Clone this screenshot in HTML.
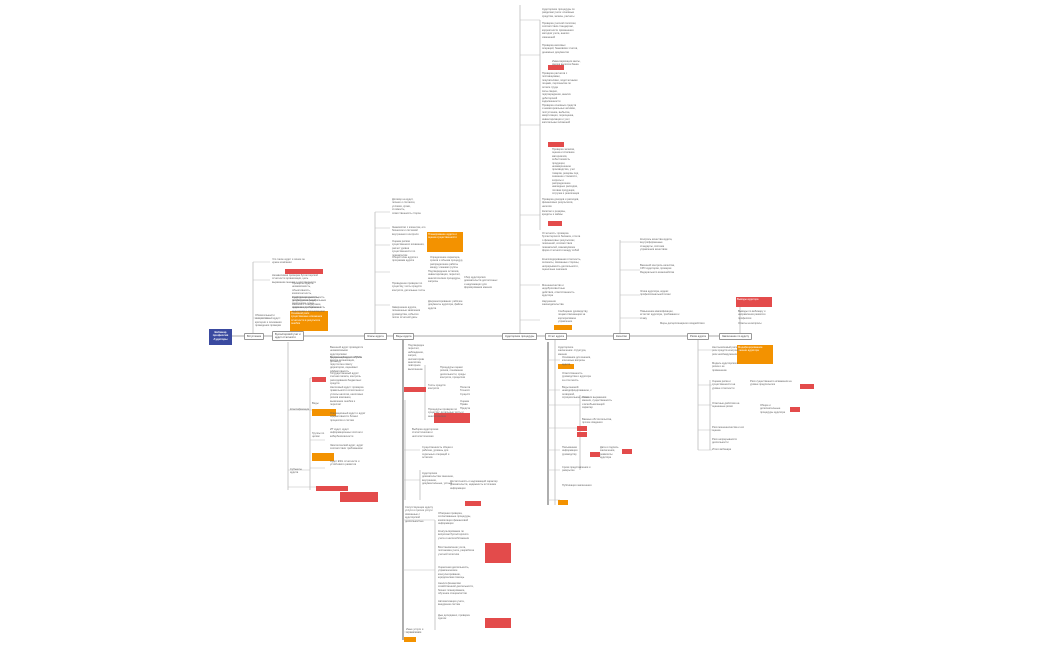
<!DOCTYPE html>
<html><head><meta charset="utf-8"><style>
html,body{margin:0;padding:0;background:#fff;width:1050px;height:650px;overflow:hidden;position:relative;font-family:"Liberation Sans",sans-serif}
.t{position:absolute;font-size:2.6px;line-height:3.4px;color:#666;width:70px;overflow:hidden}
.n{position:absolute;font-size:2.6px;line-height:3px;color:#444;background:#fff;border:0.6px solid #999;border-radius:1px;padding:1px 2px;white-space:nowrap}
.o{position:absolute;background:#f39200;font-size:2.6px;line-height:3.4px;color:#fff;padding:1px}
.r{position:absolute;background:#e34b4b;font-size:2.6px;line-height:3.4px;color:#fff;padding:1px}
svg{position:absolute;left:0;top:0}
</style></head><body>
<svg width="1050" height="650">
<g stroke="#bbb" stroke-width="0.8" fill="none">
<line x1="232" y1="336" x2="750" y2="336" stroke-width="1.2"/>
<line x1="253" y1="336" x2="253" y2="262"/>
<line x1="288" y1="342" x2="288" y2="490"/>
<line x1="375" y1="336" x2="375" y2="212"/>
<line x1="520" y1="336" x2="520" y2="5"/>
<line x1="620" y1="336" x2="620" y2="240"/>
<line x1="740" y1="336" x2="740" y2="300"/>
<line x1="698" y1="336" x2="698" y2="450"/>
<line x1="310" y1="378" x2="310" y2="490"/>
<line x1="405" y1="400" x2="405" y2="500"/>
<line x1="425" y1="365" x2="425" y2="420"/>
<line x1="420" y1="470" x2="420" y2="500"/>
<line x1="435" y1="520" x2="435" y2="630"/>
<line x1="540" y1="20" x2="540" y2="230"/>
<line x1="555" y1="340" x2="555" y2="505"/>
<line x1="710" y1="380" x2="710" y2="450"/>
<line x1="580" y1="395" x2="580" y2="470"/>
</g>
<g stroke="#333" stroke-width="0.8"><line x1="403" y1="336" x2="403" y2="640"/><line x1="548" y1="342" x2="548" y2="505"/></g>
<g stroke="#bbb" stroke-width="0.5">
<line x1="253" y1="262" x2="270" y2="262"/><line x1="253" y1="280" x2="270" y2="280"/><line x1="253" y1="318" x2="270" y2="318"/>
<line x1="375" y1="212" x2="390" y2="212"/><line x1="375" y1="228" x2="390" y2="228"/><line x1="375" y1="245" x2="390" y2="245"/><line x1="375" y1="272" x2="390" y2="272"/><line x1="375" y1="305" x2="390" y2="305"/>
<line x1="520" y1="20" x2="540" y2="20"/><line x1="520" y1="55" x2="540" y2="55"/><line x1="520" y1="125" x2="540" y2="125"/><line x1="520" y1="215" x2="540" y2="215"/><line x1="520" y1="245" x2="540" y2="245"/><line x1="520" y1="285" x2="540" y2="285"/><line x1="520" y1="320" x2="540" y2="320"/>
<line x1="620" y1="242" x2="640" y2="242"/><line x1="620" y1="270" x2="640" y2="270"/><line x1="620" y1="295" x2="640" y2="295"/><line x1="620" y1="318" x2="640" y2="318"/>
<line x1="403" y1="388" x2="425" y2="388"/><line x1="403" y1="450" x2="420" y2="450"/><line x1="403" y1="480" x2="420" y2="480"/><line x1="403" y1="520" x2="435" y2="520"/><line x1="403" y1="570" x2="435" y2="570"/><line x1="403" y1="632" x2="420" y2="632"/>
<line x1="548" y1="360" x2="560" y2="360"/><line x1="548" y1="390" x2="560" y2="390"/><line x1="548" y1="405" x2="580" y2="405"/><line x1="548" y1="428" x2="580" y2="428"/><line x1="548" y1="450" x2="560" y2="450"/><line x1="548" y1="470" x2="560" y2="470"/><line x1="548" y1="500" x2="560" y2="500"/>
<line x1="698" y1="350" x2="712" y2="350"/><line x1="698" y1="385" x2="712" y2="385"/><line x1="698" y1="405" x2="712" y2="405"/><line x1="698" y1="430" x2="712" y2="430"/><line x1="698" y1="450" x2="712" y2="450"/>
<line x1="310" y1="378" x2="325" y2="378"/><line x1="310" y1="410" x2="325" y2="410"/><line x1="310" y1="440" x2="325" y2="440"/><line x1="310" y1="468" x2="325" y2="468"/><line x1="288" y1="410" x2="310" y2="410"/><line x1="288" y1="470" x2="310" y2="470"/><line x1="288" y1="487" x2="320" y2="487"/>
</g>
</svg>
<div style="position:absolute;left:209px;top:329px;width:23px;height:16px;background:#3a4aa0;color:#fff;font-size:2.8px;line-height:3.4px;text-align:center;padding-top:2px;box-sizing:border-box;font-weight:bold">Вебинар<br>профессия<br>Аудиторы</div>
<div class="n" style="left:244px;top:333px">Вступление</div>
<div class="n" style="left:272px;top:331px">Бухгалтерский учет и<br>аудит отчетности</div>
<div class="n" style="left:364px;top:333px">Этапы аудита</div>
<div class="n" style="left:393px;top:333px">Виды аудита</div>
<div class="n" style="left:502px;top:333px">Аудиторские процедуры</div>
<div class="n" style="left:545px;top:333px">Отчет аудита</div>
<div class="n" style="left:613px;top:333px">Качество</div>
<div class="n" style="left:687px;top:333px">Риски аудита</div>
<div class="n" style="left:719px;top:333px">Заключение по аудиту</div>

<div class="o" style="left:290px;top:311px;width:36px;height:18px">Основной риск: существенные искажения отчетности в результате ошибок</div>
<div class="o" style="left:427px;top:232px;width:34px;height:18px">Планирование аудита и оценка существенности</div>
<div class="r" style="left:736px;top:297px;width:34px;height:8px">Выводы аудитора</div>
<div class="o" style="left:737px;top:345px;width:34px;height:17px">Модифицированное мнение аудитора</div>
<div class="o" style="left:554px;top:325px;width:16px;height:3px"></div>
<div class="o" style="left:558px;top:364px;width:14px;height:3px"></div>
<div class="r" style="left:312px;top:377px;width:12px;height:3px"></div>
<div class="o" style="left:312px;top:409px;width:22px;height:5px"></div>
<div class="o" style="left:312px;top:453px;width:20px;height:6px"></div>
<div class="r" style="left:316px;top:486px;width:30px;height:3px"></div>
<div class="r" style="left:340px;top:492px;width:36px;height:8px"></div>
<div class="r" style="left:404px;top:387px;width:20px;height:3px"></div>
<div class="r" style="left:434px;top:413px;width:34px;height:8px"></div>
<div class="r" style="left:465px;top:501px;width:14px;height:3px"></div>
<div class="r" style="left:485px;top:543px;width:24px;height:18px"></div>
<div class="r" style="left:485px;top:618px;width:24px;height:8px"></div>
<div class="o" style="left:404px;top:637px;width:10px;height:3px"></div>
<div class="r" style="left:577px;top:426px;width:8px;height:3px"></div>
<div class="r" style="left:577px;top:432px;width:8px;height:3px"></div>
<div class="r" style="left:590px;top:452px;width:8px;height:3px"></div>
<div class="r" style="left:622px;top:449px;width:8px;height:3px"></div>
<div class="r" style="left:790px;top:407px;width:8px;height:3px"></div>
<div class="r" style="left:800px;top:384px;width:12px;height:3px"></div>
<div class="o" style="left:558px;top:500px;width:8px;height:3px"></div>
<div class="r" style="left:548px;top:65px;width:14px;height:3px"></div>
<div class="r" style="left:548px;top:142px;width:14px;height:3px"></div>
<div class="r" style="left:548px;top:221px;width:12px;height:3px"></div>
<div class="r" style="left:285px;top:269px;width:36px;height:3px"></div>

<div class="t" style="left:272px;top:258px;width:40px">Что такое аудит и зачем он нужен компании</div>
<div class="t" style="left:272px;top:274px;width:48px">Независимая проверка бухгалтерской отчетности организации, цель выражение мнения о достоверности</div>
<div class="t" style="left:292px;top:282px;width:36px">Принципы аудита: независимость, объективность, компетентность, конфиденциальность, профессиональный скептицизм, этика, надлежащая тщательность</div>
<div class="t" style="left:292px;top:296px;width:36px">Аудиторская деятельность регулируется федеральным законом и стандартами, правила и требования к аудиторам и организациям</div>
<div class="t" style="left:255px;top:314px;width:34px">Обязательный и инициативный аудит: критерии и основания проведения проверки</div>
<div class="t" style="left:392px;top:198px;width:30px">Договор на аудит, письмо о согласии, условия, сроки, стоимость, ответственность сторон</div>
<div class="t" style="left:392px;top:226px;width:34px">Знакомство с клиентом, его бизнесом и системой внутреннего контроля</div>
<div class="t" style="left:392px;top:240px;width:34px">Оценка рисков существенного искажения, расчет уровня существенности по показателям</div>
<div class="t" style="left:392px;top:256px;width:30px">Общий план аудита и программа аудита</div>
<div class="t" style="left:430px;top:256px;width:36px">Определение характера, сроков и объема процедур, распределение работы между членами группы</div>
<div class="t" style="left:392px;top:282px;width:34px">Проведение проверки по существу, тесты средств контроля, детальные тесты</div>
<div class="t" style="left:428px;top:270px;width:34px">Подтверждение остатков, инвентаризация, пересчет, аналитические процедуры, запросы</div>
<div class="t" style="left:464px;top:276px;width:34px">Сбор аудиторских доказательств достаточных и надлежащих для формирования мнения</div>
<div class="t" style="left:428px;top:300px;width:36px">Документирование: рабочие документы аудитора, файлы аудита</div>
<div class="t" style="left:392px;top:306px;width:34px">Завершение аудита, письменные заявления руководства, события после отчетной даты</div>
<div class="t" style="left:330px;top:346px;width:34px">Внешний аудит проводится независимыми аудиторскими организациями или ИП по договору</div>
<div class="t" style="left:330px;top:356px;width:34px">Внутренний аудит: служба внутри организации, подотчетна совету директоров, оценивает эффективность</div>
<div class="t" style="left:330px;top:372px;width:34px">Государственный аудит: счетная палата, контроль расходования бюджетных средств</div>
<div class="t" style="left:330px;top:386px;width:34px">Налоговый аудит: проверка правильности исчисления и уплаты налогов, налоговых рисков компании, выявление ошибок и переплат</div>
<div class="t" style="left:330px;top:412px;width:36px">Операционный аудит и аудит эффективности бизнес процессов и систем</div>
<div class="t" style="left:330px;top:428px;width:34px">ИТ аудит, аудит информационных систем и кибербезопасности</div>
<div class="t" style="left:330px;top:444px;width:34px">Экологический аудит, аудит соответствия требованиям</div>
<div class="t" style="left:330px;top:460px;width:34px">Аудит ESG отчетности и устойчивого развития</div>
<div class="t" style="left:312px;top:402px;width:14px">Виды</div>
<div class="t" style="left:312px;top:432px;width:16px">Группы по целям</div>
<div class="t" style="left:290px;top:408px;width:20px">Классификация</div>
<div class="t" style="left:290px;top:468px;width:20px">Субъекты аудита</div>
<div class="t" style="left:408px;top:344px;width:16px">Подтверждение, пересчет, наблюдение, запрос, инспектирование, аналитика, повторное выполнение</div>
<div class="t" style="left:440px;top:366px;width:30px">Процедуры оценки рисков, понимание деятельности, среды контроля, процессов</div>
<div class="t" style="left:428px;top:384px;width:24px">Тесты средств контроля</div>
<div class="t" style="left:428px;top:408px;width:40px">Процедуры проверки по существу: детальные тесты и аналитические</div>
<div class="t" style="left:460px;top:386px;width:10px">Полнота<br>Точность<br>Существование</div>
<div class="t" style="left:460px;top:400px;width:10px">Оценка<br>Права<br>Представление</div>
<div class="t" style="left:412px;top:428px;width:30px">Выборка аудиторская статистическая и нестатистическая</div>
<div class="t" style="left:422px;top:446px;width:34px">Существенность общая и рабочая, уровень для отдельных операций и остатков</div>
<div class="t" style="left:422px;top:472px;width:34px">Аудиторские доказательства: внешние, внутренние, документальные, устные</div>
<div class="t" style="left:450px;top:480px;width:60px">Достаточность и надлежащий характер доказательств, надежность источника информации</div>
<div class="t" style="left:405px;top:506px;width:30px">Сопутствующие аудиту услуги и прочие услуги связанные с аудиторской деятельностью</div>
<div class="t" style="left:438px;top:512px;width:34px">Обзорная проверка, согласованные процедуры, компиляция финансовой информации</div>
<div class="t" style="left:438px;top:530px;width:34px">Консультирование по вопросам бухгалтерского учета и налогообложения</div>
<div class="t" style="left:438px;top:546px;width:40px">Восстановление учета, постановка учета, разработка учетной политики</div>
<div class="t" style="left:438px;top:566px;width:36px">Оценочная деятельность, управленческое консультирование, юридическая помощь</div>
<div class="t" style="left:438px;top:582px;width:36px">Анализ финансово хозяйственной деятельности, бизнес планирование, обучение специалистов</div>
<div class="t" style="left:438px;top:600px;width:36px">Автоматизация учета, внедрение систем</div>
<div class="t" style="left:438px;top:614px;width:36px">Дью дилидженс, проверка сделок</div>
<div class="t" style="left:406px;top:628px;width:30px">Иные услуги и ограничения</div>
<div class="t" style="left:542px;top:8px;width:40px">Аудиторские процедуры по разделам учета: основные средства, запасы, расчеты</div>
<div class="t" style="left:542px;top:22px;width:40px">Проверка учетной политики, соответствия стандартам, корректности применения методов учета, анализ изменений</div>
<div class="t" style="left:542px;top:44px;width:36px">Проверка кассовых операций, банковских счетов, денежных документов</div>
<div class="t" style="left:552px;top:60px;width:36px">Инвентаризация кассы, сверка выписок банка</div>
<div class="t" style="left:542px;top:72px;width:36px">Проверка расчетов с поставщиками, покупателями, подотчетными лицами, персоналом по оплате труда</div>
<div class="t" style="left:542px;top:90px;width:34px">Акты сверки, подтверждения, анализ дебиторской задолженности</div>
<div class="t" style="left:542px;top:104px;width:36px">Проверка основных средств и нематериальных активов, поступление, выбытие, амортизация, переоценка, инвентаризация и учет капитальных вложений</div>
<div class="t" style="left:552px;top:148px;width:30px">Проверка запасов, оценка и списание материалов, себестоимость продукции, незавершенное производство, учет товаров, резервы под снижение стоимости, затраты и распределение накладных расходов, готовая продукция, отгрузка и реализация</div>
<div class="t" style="left:542px;top:198px;width:38px">Проверка доходов и расходов, финансовых результатов, налогов</div>
<div class="t" style="left:542px;top:210px;width:34px">Капитал и резервы, кредиты и займы</div>
<div class="t" style="left:542px;top:232px;width:40px">Отчетность: проверка бухгалтерского баланса, отчета о финансовых результатах, пояснений, соответствия показателей, взаимоувязка форм отчетности между собой</div>
<div class="t" style="left:542px;top:258px;width:40px">Консолидированная отчетность, сегменты, связанные стороны, непрерывность деятельности, оценочные значения</div>
<div class="t" style="left:542px;top:284px;width:34px">Мошенничество и недобросовестные действия, ответственность аудитора</div>
<div class="t" style="left:542px;top:300px;width:30px">Нарушения законодательства</div>
<div class="t" style="left:558px;top:310px;width:30px">Сообщение руководству, лицам отвечающим за корпоративное управление</div>
<div class="t" style="left:558px;top:346px;width:30px">Аудиторское заключение: структура, мнение</div>
<div class="t" style="left:562px;top:356px;width:30px">Основание для мнения, ключевые вопросы аудита</div>
<div class="t" style="left:562px;top:372px;width:30px">Ответственность руководства и аудитора за отчетность</div>
<div class="t" style="left:562px;top:386px;width:30px">Виды мнений: немодифицированное, с оговоркой, отрицательное, отказ</div>
<div class="t" style="left:582px;top:396px;width:30px">Условия выражения мнения, существенность и всеобъемлющий характер</div>
<div class="t" style="left:582px;top:418px;width:30px">Важные обстоятельства, прочие сведения</div>
<div class="t" style="left:562px;top:446px;width:24px">Письменная информация руководству</div>
<div class="t" style="left:600px;top:446px;width:24px">Дата и подпись заключения, реквизиты аудитора</div>
<div class="t" style="left:562px;top:466px;width:30px">Сроки представления и раскрытие</div>
<div class="t" style="left:562px;top:484px;width:30px">Публикация заключения</div>
<div class="t" style="left:640px;top:238px;width:34px">Контроль качества аудита, внутрифирменные стандарты, система управления качеством</div>
<div class="t" style="left:640px;top:264px;width:40px">Внешний контроль качества, СРО аудиторов, проверки Федерального казначейства</div>
<div class="t" style="left:640px;top:290px;width:34px">Этика аудитора, кодекс профессиональной этики</div>
<div class="t" style="left:640px;top:310px;width:40px">Повышение квалификации, аттестат аудитора, требования к стажу</div>
<div class="t" style="left:660px;top:322px;width:60px">Меры дисциплинарного воздействия</div>
<div class="t" style="left:712px;top:346px;width:28px">Неотъемлемый риск, риск средств контроля, риск необнаружения</div>
<div class="t" style="left:712px;top:362px;width:28px">Модель аудиторского риска и ее применение</div>
<div class="t" style="left:712px;top:380px;width:30px">Оценка риска и существенности на уровне отчетности</div>
<div class="t" style="left:750px;top:380px;width:46px">Риск существенного искажения на уровне предпосылок</div>
<div class="t" style="left:712px;top:402px;width:30px">Ответные действия на оцененные риски</div>
<div class="t" style="left:760px;top:404px;width:26px">Общие и дополнительные процедуры аудитора</div>
<div class="t" style="left:712px;top:426px;width:34px">Риск мошенничества и его оценка</div>
<div class="t" style="left:712px;top:438px;width:34px">Риск непрерывности деятельности</div>
<div class="t" style="left:712px;top:448px;width:34px">Итоги вебинара</div>
<div class="t" style="left:738px;top:310px;width:32px">Выводы по вебинару и направления развития профессии</div>
<div class="t" style="left:738px;top:322px;width:32px">Ответы на вопросы</div>
</body></html>
